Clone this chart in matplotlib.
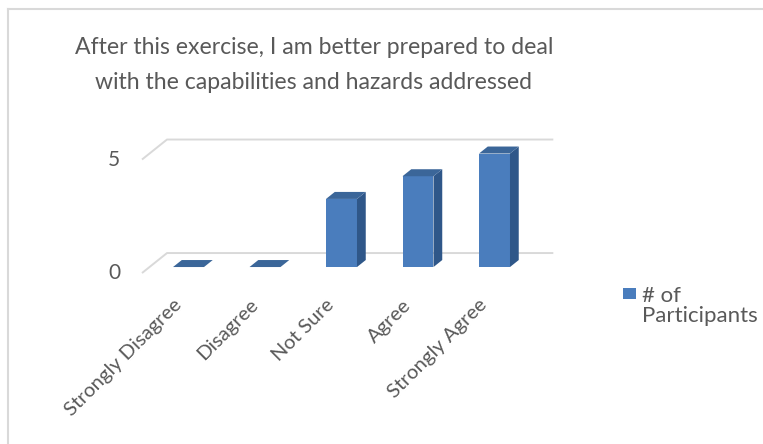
import matplotlib
matplotlib.use('Agg')
import matplotlib.pyplot as plt
from matplotlib.lines import Line2D
from matplotlib.patches import Polygon, Rectangle

categories = ['Strongly Disagree', 'Disagree', 'Not Sure', 'Agree', 'Strongly Agree']
participants = [0, 0, 3, 4, 5]
value_ticks = [0, 5]
series_name = '# of\nParticipants'
title = 'After this exercise, I am better prepared to deal\nwith the capabilities and hazards addressed'

FRONT = '#4A7DBD'
SIDE = '#2F5789'
TOP = '#3B6699'
GRID = '#D9D9D9'
TEXT = '#595959'

# oblique floor depth in data units (x = category, y = value)
DEPTH_X, DEPTH_Y = 0.327, 0.881
BAR_FRONT, BAR_BACK = 0.3, 0.65   # where the bars sit inside the floor depth
BAR_W = 0.405
FLOOR_X0, FLOOR_X1 = -0.51, 4.54


def offset(d):
    # shift from the bar front plane to depth d (0 = front edge, 1 = back wall)
    return (d - BAR_FRONT) * DEPTH_X, (d - BAR_FRONT) * DEPTH_Y


plt.rcParams['font.family'] = ['Lato', 'DejaVu Sans']

fig = plt.figure(figsize=(7.63, 4.44), dpi=100)
ax = fig.add_axes([0.1819, 0.373, 0.5464, 0.3119])
ax.set_xlim(-0.65, 4.8)
ax.set_ylim(-0.5, 5.6)
ax.axis('off')

# gridlines: short slanted floor edge plus the line on the back wall
fx, fy = offset(0)
bx, by = offset(1)
for v in value_ticks:
    ax.plot([FLOOR_X0 + fx, FLOOR_X0 + bx, FLOOR_X1 + bx], [v + fy, v + by, v + by],
            color=GRID, lw=1.4, zorder=1, clip_on=False, solid_capstyle='butt')
    ax.text(-0.974, v + fy, str(v), ha='center', va='center', fontsize=15,
            color=TEXT, clip_on=False)

# bars: front face from ax.bar, side and top faces added as polygons
xs = list(range(len(categories)))
ax.bar(xs, participants, width=BAR_W, color=FRONT, zorder=3, linewidth=0)
ddx = (BAR_BACK - BAR_FRONT) * DEPTH_X
ddy = (BAR_BACK - BAR_FRONT) * DEPTH_Y
for x, v in zip(xs, participants):
    left, right = x - BAR_W / 2, x + BAR_W / 2
    side = [(right, 0), (right + ddx, ddy), (right + ddx, v + ddy), (right, v)]
    top = [(left, v), (right, v), (right + ddx, v + ddy), (left + ddx, v + ddy)]
    ax.add_patch(Polygon(side, closed=True, facecolor=SIDE, edgecolor='none', zorder=3, clip_on=False))
    ax.add_patch(Polygon(top, closed=True, facecolor=TOP, edgecolor='none', zorder=4, clip_on=False))

for x, cat in zip(xs, categories):
    ax.text(x - 0.13, -1.55, cat, rotation=45, rotation_mode='anchor', ha='right',
            va='center', fontsize=14.5, color=TEXT, clip_on=False)

fig.text(0.4115, 0.8536, title, ha='center', va='center', fontsize=16.6, color=TEXT,
         linespacing=1.85)

# legend
fig.patches.append(Rectangle((623 / 763, 1 - 299 / 444), 13 / 763, 11 / 444,
                             transform=fig.transFigure, facecolor=FRONT, edgecolor='none'))
fig.text(642 / 763, 1 - 306 / 444, series_name, ha='left', va='center', fontsize=16,
         color=TEXT, linespacing=1.05)

# chart frame (only the left and top edges fall inside the image)
fig.add_artist(Line2D([8 / 763, 1], [1 - 9 / 444, 1 - 9 / 444], color=GRID, lw=1.5))
fig.add_artist(Line2D([8 / 763, 8 / 763], [0, 1 - 9 / 444], color=GRID, lw=1.5))

fig.savefig('out.png', dpi=100)
